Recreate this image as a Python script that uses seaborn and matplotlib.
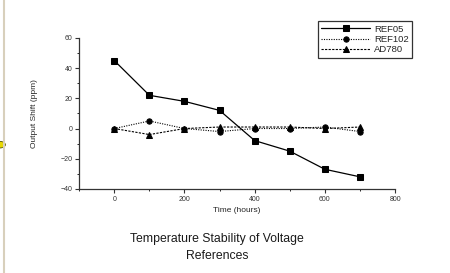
import matplotlib
matplotlib.use("Agg")
import matplotlib.pyplot as plt
import seaborn as sns
import pandas as pd
from matplotlib.lines import Line2D
from matplotlib.patches import Circle
from matplotlib.ticker import MultipleLocator

hours = [0, 100, 200, 300, 400, 500, 600, 700]
ref05 = [45, 22, 18, 12, -8, -15, -27, -32]
ref102 = [0, 5, 0, -2, 0, 0, 1, -2]
ad780 = [0, -4, 0, 1, 1, 1, 0, 1]

sns.set_style("ticks")
plt.rcParams['font.family'] = ['Liberation Sans', 'DejaVu Sans']

fig = plt.figure(figsize=(4.5, 2.73), dpi=100)
ax = fig.add_axes([0.176, 0.308, 0.702, 0.553])

df = pd.DataFrame({'hours': hours, 'REF05': ref05, 'REF102': ref102, 'AD780': ad780})

sns.lineplot(data=df, x='hours', y='REF05', ax=ax, color='black', lw=0.9,
             marker='s', markersize=3.8, markeredgecolor='black', label='REF05')
sns.lineplot(data=df, x='hours', y='REF102', ax=ax, color='black', lw=0.8,
             linestyle=(0, (1, 1.2)), marker='o', markersize=3.8,
             markeredgecolor='black', label='REF102')
sns.lineplot(data=df, x='hours', y='AD780', ax=ax, color='black', lw=0.8,
             linestyle=(0, (2, 1.2)), marker='^', markersize=3.8,
             markeredgecolor='black', label='AD780')

ax.set_xlim(-100, 800)
ax.set_ylim(-40, 60)
ax.set_xticks([0, 200, 400, 600, 800])
ax.set_yticks([-40, -20, 0, 20, 40, 60])
ax.xaxis.set_minor_locator(MultipleLocator(100))
ax.yaxis.set_minor_locator(MultipleLocator(10))
ax.tick_params(which='major', direction='out', length=3, width=0.8, labelsize=5, pad=2, colors='#333333')
ax.tick_params(which='minor', direction='out', length=1.5, width=0.7)
for s in ['left', 'bottom']:
    ax.spines[s].set_linewidth(0.9)
    ax.spines[s].set_color('#333333')
sns.despine(ax=ax)

ax.set_xlabel('Time (hours)', fontsize=6, labelpad=3)
ax.set_ylabel('Output Shift (ppm)', fontsize=6, labelpad=16)

leg = ax.legend(loc='upper left', bbox_to_anchor=(0.756, 1.11), fontsize=6.8,
                frameon=True, fancybox=False, edgecolor='black', handlelength=5.2,
                borderpad=0.35, labelspacing=0.15, handletextpad=0.4, borderaxespad=0)
leg.get_frame().set_linewidth(0.9)

fig.text(0.482, 0.095, 'Temperature Stability of Voltage\nReferences', ha='center', va='center',
         fontsize=8.8, color='#1a1a1a',
         family=['Liberation Sans Narrow', 'Liberation Sans', 'DejaVu Sans'],
         linespacing=1.55)

fig.add_artist(Line2D([0.009, 0.009], [0, 1], transform=fig.transFigure, color='#d8d0bc', lw=1.5))
fig.add_artist(Circle((0.0, 0.47), 0.012, transform=fig.transFigure, facecolor='#e8d800',
                      edgecolor='#555500', lw=0.6))

fig.savefig('out.png', dpi=100)
